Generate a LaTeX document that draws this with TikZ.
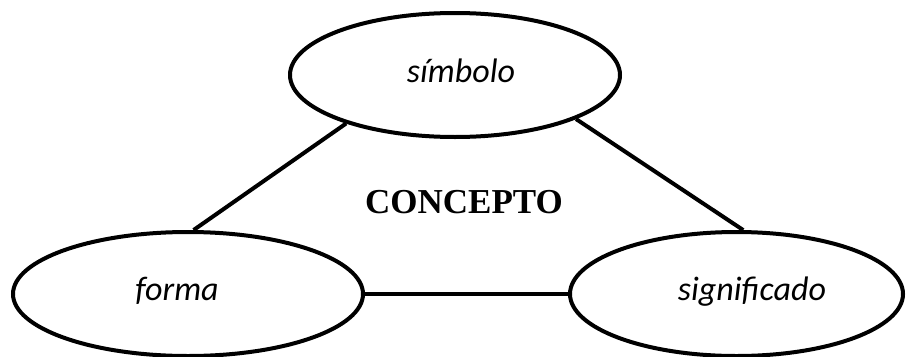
\documentclass[tikz,border=0pt]{standalone}
\usepackage{fontspec}
\setmainfont{Liberation Serif}
\newfontfamily\calib{Carlito}
\usetikzlibrary{shapes.geometric}
\begin{document}
\begin{tikzpicture}[x=1pt,y=-1pt,
  oval/.style={draw=black,ellipse,line width=4pt,inner sep=0pt},
  lbl/.style={anchor=base,inner sep=0pt,font=\calib\itshape\fontsize{34}{40}\selectfont},
  link/.style={line width=4pt}]
\useasboundingbox (0,0) rectangle (909,356);
\node[oval,minimum width=330,minimum height=124] (sim) at (455,75) {};
\node[oval,minimum width=350,minimum height=124] (for) at (188,294) {};
\node[oval,minimum width=333,minimum height=124] (sig) at (736.5,294) {};
\node[lbl] (tsim) at (461,82) {símbolo};
\node[lbl] (tfor) at (177,300) {forma};
\node[lbl] (tsig) at (752,300) {significado};
\node[anchor=base,inner sep=0pt,font=\bfseries\fontsize{35}{40}\selectfont] (con) at (464,213) {CONCEPTO};
\draw[link] (sim.204) -- (for.85);
\draw[link] (sim.340) -- (sig.84);
\draw[link] (for.east) -- (sig.west);
\end{tikzpicture}
\end{document}
